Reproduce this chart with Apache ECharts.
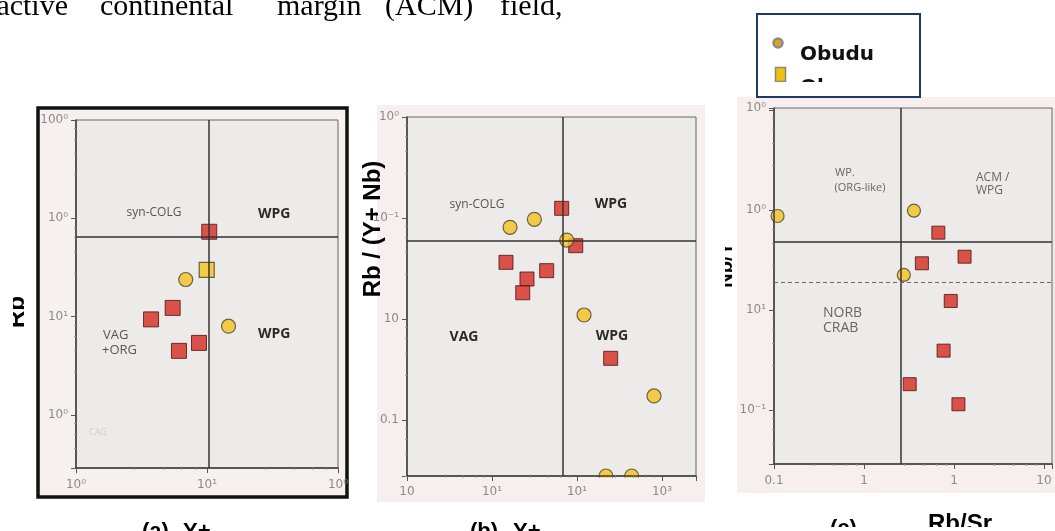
<!DOCTYPE html>
<html>
<head>
<meta charset="utf-8">
<script src="https://cdn.jsdelivr.net/npm/echarts@6/dist/echarts.min.js"></script>
<style>
html,body{margin:0;padding:0;background:#fff;}
#chart{width:1055px;height:531px;}
</style>
</head>
<body>
<div id="chart"></div>
<script>
// ---------- Panel (a) data ----------
const obuduA_x = [6.88, 14.6];
const obuduA_y = [23.9, 8.02];
const obanA_x = [9.95];
const obanA_y = [29.9];
const redA_x = [10.4, 5.47, 3.74, 8.69, 6.11];
const redA_y = [73.1, 12.3, 9.4, 5.42, 4.5];
const boundA_x = [10.3];
const boundA_y = [64.5];

// ---------- Panel (b) data ----------
const obuduB_x = [16.3, 31.5, 75.7, 121, 805, 219, 440];
const obuduB_y = [0.0809, 0.0971, 0.0605, 0.01096, 0.00173, 0.000279, 0.000279];
const redB_x = [66, 96.6, 14.6, 44, 25.8, 23, 249];
const redB_y = [0.1247, 0.0532, 0.0364, 0.0301, 0.0249, 0.0182, 0.00408];
const boundB_x = [68.4];
const boundB_y = [0.0648];

// ---------- Panel (c) data ----------
const obuduC_x = [0.1096, 3.59, 2.77];
const obuduC_y = [87.1, 98.4, 22.4];
const redC_x = [6.7, 4.4, 13.1, 9.2, 7.66, 3.22, 11.2];
const redC_y = [59.3, 29.3, 34.1, 12.3, 3.92, 1.81, 1.14];
const boundC_x = [2.59];
const boundC_y = [47.9];
const boundC_yDashed = [19.1];

// ---------- Axis ranges ----------
const rangeA_x = [1, 100];
const rangeA_y = [0.29, 1000];
const rangeB_x = [1, 2512];
const rangeB_y = [0.000279, 1];
const rangeC_x = [0.1, 122.7];
const rangeC_y = [0.288, 1047];

// ---------- Tick labels (decade exponent -> printed label, as in the figure) ----------
const tickExpA_x = [0, 1, 2];
const tickLabA_x = ['10⁰', '10¹', '10⁰'];
const tickExpA_y = [0, 1, 2, 3];
const tickLabA_y = ['10⁰', '10¹', '10⁰', '100⁰'];
const tickExpB_x = [0, 1, 2, 3];
const tickLabB_x = ['10', '10¹', '10¹', '10³'];
const tickExpB_y = [-3, -2, -1, 0];
const tickLabB_y = ['0.1', '10', '10⁻¹', '10⁰'];
const tickExpC_x = [-1, 0, 1, 2];
const tickLabC_x = ['0.1', '1', '1', '10'];
const tickExpC_y = [0, 1, 2, 3];
const tickLabC_y = ['10⁻¹', '10¹', '10⁰', '10⁰'];

const seriesNames = ['Obudu', 'Oban', 'Group 3'];

// ---------- layout (pixels) ----------
const GRIDS = [
  { left: 76, top: 120, width: 262, height: 348 },
  { left: 407, top: 117, width: 289, height: 359 },
  { left: 774, top: 108, width: 282, height: 356 }
];

// ---------- helpers ----------
function zip(xs, ys) { return xs.map((x, i) => [x, ys[i]]); }
function fmt(v, exps, labs) {
  const e = Math.log10(v);
  const r = Math.round(e);
  if (Math.abs(e - r) > 0.02) return '';
  const i = exps.indexOf(r);
  return i >= 0 ? labs[i] : '';
}
function logAxis(gridIndex, range, exps, labs, margin) {
  return {
    type: 'log', logBase: 10, gridIndex: gridIndex,
    min: range[0], max: range[1], z: 4,
    axisLine: { show: true, onZero: false, lineStyle: { color: '#3c3c3c', width: 1.5 } },
    axisTick: { show: true, length: 5, lineStyle: { color: '#555' } },
    minorTick: { show: true, splitNumber: 5, length: 2, lineStyle: { color: '#999' } },
    splitLine: { show: false },
    axisLabel: {
      color: '#8a8a8a', fontSize: 12, fontFamily: 'DejaVu Sans', margin: margin,
      hideOverlap: false, showMinLabel: true, showMaxLabel: true,
      formatter: v => fmt(v, exps, labs)
    }
  };
}
const RED = { color: '#d62a22', borderColor: '#4a1410', borderWidth: 1 };
const YEL = { color: '#f4c21c', borderColor: '#4a4030', borderWidth: 1.2 };
function scatter(name, gi, xs, ys, symbol, style, size, marks) {
  const s = {
    type: 'scatter', name: name, xAxisIndex: gi, yAxisIndex: gi,
    data: zip(xs, ys), symbol: symbol, symbolSize: size, itemStyle: style,
    clip: false, z: 2, emphasis: { disabled: true }, animation: false
  };
  if (marks) s.markLine = marks;
  return s;
}
function bounds(xv, yv, yDashed) {
  const data = [];
  xv.forEach(v => data.push({ xAxis: v }));
  yv.forEach(v => data.push({ yAxis: v }));
  (yDashed || []).forEach(v => data.push({ yAxis: v, lineStyle: { type: [4, 3], width: 1, color: '#666' } }));
  return {
    silent: true, symbol: 'none', animation: false,
    label: { show: false },
    lineStyle: { color: '#333', width: 1.5, type: 'solid' },
    emphasis: { disabled: true },
    data: data
  };
}
function txt(x, y, text, opts) {
  opts = opts || {};
  return {
    type: 'text', x: x, y: y, z: opts.z || 3, rotation: opts.rotation || 0, silent: true,
    style: {
      text: text, x: 0, y: 0,
      fill: opts.color || '#555',
      font: opts.font || '12px "Open Sans"',
      align: opts.align || 'center', verticalAlign: 'middle'
    }
  };
}
function rect(x, y, w, h, fill, z, stroke, lw) {
  return {
    type: 'rect', z: z, silent: true,
    shape: { x: x, y: y, width: w, height: h },
    style: { fill: fill, stroke: stroke || null, lineWidth: lw || 0 }
  };
}

const PINK = '#f7efed';
const PLOT_BG = '#ecebe9';

const plotBgs = GRIDS.map(g => rect(g.left, g.top, g.width, g.height, PLOT_BG, 1));

const chart = echarts.init(document.getElementById('chart'), null, { renderer: 'canvas' });
chart.setOption({
  animation: false,
  backgroundColor: '#ffffff',
  grid: GRIDS.map(g => Object.assign({ show: true, backgroundColor: 'transparent', borderColor: '#666', borderWidth: 1, z: 2 }, g)),
  xAxis: [
    logAxis(0, rangeA_x, tickExpA_x, tickLabA_x, 11),
    logAxis(1, rangeB_x, tickExpB_x, tickLabB_x, 10),
    logAxis(2, rangeC_x, tickExpC_x, tickLabC_x, 11)
  ],
  yAxis: [
    logAxis(0, rangeA_y, tickExpA_y, tickLabA_y, 8),
    logAxis(1, rangeB_y, tickExpB_y, tickLabB_y, 8),
    logAxis(2, rangeC_y, tickExpC_y, tickLabC_y, 8)
  ],
  series: [
    scatter(seriesNames[2], 0, redA_x, redA_y, 'rect', RED, 15, bounds(boundA_x, boundA_y)),
    scatter(seriesNames[0], 0, obuduA_x, obuduA_y, 'circle', YEL, 14),
    scatter(seriesNames[1], 0, obanA_x, obanA_y, 'rect', YEL, 15),
    scatter(seriesNames[2], 1, redB_x, redB_y, 'rect', RED, 14, bounds(boundB_x, boundB_y)),
    scatter(seriesNames[0], 1, obuduB_x, obuduB_y, 'circle', YEL, 14),
    scatter(seriesNames[2], 2, redC_x, redC_y, 'rect', RED, 13, bounds(boundC_x, boundC_y, boundC_yDashed)),
    scatter(seriesNames[0], 2, obuduC_x, obuduC_y, 'circle', YEL, 13)
  ],
  graphic: [
    // backgrounds
    rect(38, 108, 309, 389, '#f6f1ef', 0, '#111', 3.5),
    rect(377, 105, 328, 397, PINK, 0),
    rect(737, 97, 318, 396, PINK, 0),
    ...plotBgs,
    // cover below panel (b) axis so bottom circles look clipped
    rect(378, 477.5, 326, 10, PINK, 3),

    // top cut text line
    txt(68, 7, 'active', { align: 'right', color: '#000', font: '30px "Liberation Serif"', z: 10 }),
    txt(100, 7, 'continental', { align: 'left', color: '#000', font: '30px "Liberation Serif"', z: 10 }),
    txt(277, 7, 'margin', { align: 'left', color: '#000', font: '30px "Liberation Serif"', z: 10 }),
    txt(385, 7, '(ACM)', { align: 'left', color: '#000', font: '30px "Liberation Serif"', z: 10 }),
    txt(500, 7, 'field,', { align: 'left', color: '#000', font: '30px "Liberation Serif"', z: 10 }),

    // panel (a) region labels
    txt(154, 213, 'syn-COLG', { color: '#555', font: '12px "Open Sans"' }),
    txt(258, 214, 'WPG', { align: 'left', color: '#2a2a2a', font: 'bold 14px "Open Sans"' }),
    txt(258, 334, 'WPG', { align: 'left', color: '#2a2a2a', font: 'bold 14px "Open Sans"' }),
    txt(103, 335, 'VAG', { align: 'left', color: '#555', font: '13px "Open Sans"' }),
    txt(102, 350, '+ORG', { align: 'left', color: '#555', font: '13px "Open Sans"' }),
    txt(89, 432, 'CAG', { align: 'left', color: '#cfcfcf', font: '9px "Open Sans"' }),
    txt(17.6, 312, 'Rb', { color: '#000', font: 'bold 24px "Liberation Sans"', rotation: Math.PI / 2, z: 9 }),
    rect(0, 280, 13, 70, '#ffffff', 10),

    // panel (b) region labels
    txt(477, 205, 'syn-COLG', { color: '#555', font: '12px "Open Sans"' }),
    txt(611, 204, 'WPG', { color: '#2a2a2a', font: 'bold 14px "Open Sans"' }),
    txt(464, 337, 'VAG', { color: '#2a2a2a', font: 'bold 14px "Open Sans"' }),
    txt(612, 336, 'WPG', { color: '#2a2a2a', font: 'bold 14px "Open Sans"' }),
    txt(373, 229, 'Rb / (Y+ Nb)', { color: '#000', font: 'bold 24px "Liberation Sans"', rotation: Math.PI / 2, z: 9 }),

    // panel (c) region labels
    txt(835, 173, 'WP.', { align: 'left', color: '#666', font: '11px "Open Sans"' }),
    txt(860, 188, '(ORG-like)', { color: '#666', font: '11px "Open Sans"' }),
    txt(976, 178, 'ACM /', { align: 'left', color: '#666', font: '12px "Open Sans"' }),
    txt(976, 191, 'WPG', { align: 'left', color: '#666', font: '12px "Open Sans"' }),
    txt(823, 313, 'NORB', { align: 'left', color: '#666', font: '14px "Open Sans"' }),
    txt(823, 328, 'CRAB', { align: 'left', color: '#666', font: '14px "Open Sans"' }),
    txt(726, 265, 'Nb/Y', { color: '#000', font: 'bold 20px "Liberation Sans"', rotation: Math.PI / 2, z: 9 }),
    rect(706, 230, 19, 70, '#ffffff', 10),

    // legend (cut off)
    rect(757, 14, 163, 83, '#ffffff', 10, '#1f3864', 2),
    { type: 'circle', z: 11, silent: true, shape: { cx: 778, cy: 43, r: 4.5 }, style: { fill: '#d9a520', stroke: '#8a8a8a', lineWidth: 2.5 } },
    txt(800, 55, seriesNames[0], { align: 'left', color: '#111', font: 'bold 20px "DejaVu Sans"', z: 11 }),
    rect(775.5, 67.5, 10, 14, '#f0c010', 11, '#8a8a70', 1.5),
    txt(800, 88, seriesNames[1], { align: 'left', color: '#111', font: 'bold 20px "DejaVu Sans"', z: 11 }),
    rect(759, 82, 160, 14, '#ffffff', 12),

    // bottom cut panel captions
    txt(142, 532, '(a)', { align: 'left', color: '#000', font: 'bold 22px "Liberation Sans"', z: 10 }),
    txt(183, 532, 'Y+', { align: 'left', color: '#000', font: 'bold 22px "Liberation Sans"', z: 10 }),
    txt(470, 532, '(b)', { align: 'left', color: '#000', font: 'bold 22px "Liberation Sans"', z: 10 }),
    txt(513, 532, 'Y+', { align: 'left', color: '#000', font: 'bold 22px "Liberation Sans"', z: 10 }),
    txt(830, 529, '(c)', { align: 'left', color: '#000', font: 'bold 22px "Liberation Sans"', z: 10 }),
    txt(928, 524, 'Rb/Sr', { align: 'left', color: '#000', font: 'bold 24px "Liberation Sans"', z: 10 }),
    rect(800, 527, 255, 4, '#ffffff', 11)
  ]
});
</script>
</body>
</html>
